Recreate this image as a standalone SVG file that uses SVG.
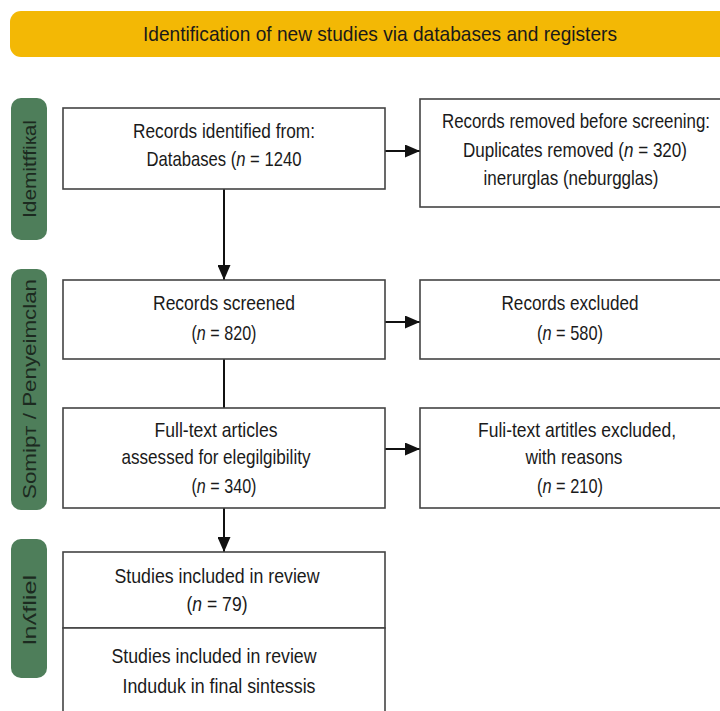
<svg xmlns="http://www.w3.org/2000/svg" width="720" height="711" viewBox="0 0 720 711">
<style>
.box{fill:#fff;stroke:#444;stroke-width:1.6}
.side{fill:#4E7E5A}
.t{font-family:"Liberation Sans",Arial,sans-serif;font-size:21px;fill:#1a1a1a;text-anchor:middle}
.st{font-family:"Liberation Sans",Arial,sans-serif;font-size:19px;fill:#1c2a20;text-anchor:middle}
.c{stroke:#111;stroke-width:2;fill:none}
.i{font-style:italic}
</style>
<defs>
<marker id="ah" markerUnits="userSpaceOnUse" markerWidth="15" markerHeight="13" refX="15" refY="6.5" orient="auto">
<path d="M0,0 L15,6.5 L0,13 z" fill="#111"/>
</marker>
</defs>
<rect width="720" height="711" fill="#fff"/>
<g id="title">
<rect x="10" y="11" width="730" height="46" rx="11" fill="#F3B805"/>
<text class="t" x="380" y="41" textLength="474" lengthAdjust="spacingAndGlyphs">Identification of new studies via databases and registers</text>
</g>
<g id="side-identification">
<rect class="side" x="11" y="98" width="36" height="142" rx="10"/>
<text class="st" transform="translate(29,169) rotate(-90)" x="0" y="6.5" textLength="98" lengthAdjust="spacingAndGlyphs">Idemitffiкal</text>
</g>
<g id="side-screening">
<rect class="side" x="11" y="269" width="36" height="241" rx="10"/>
<text class="st" transform="translate(29,389) rotate(-90)" x="0" y="6.5" textLength="220" lengthAdjust="spacingAndGlyphs">Somipт / Penyeimclan</text>
</g>
<g id="side-included">
<rect class="side" x="11" y="539" width="36" height="139" rx="10"/>
<text class="st" transform="translate(29,610) rotate(-90)" x="0" y="6.5" textLength="70" lengthAdjust="spacingAndGlyphs">lnʎfliel</text>
</g>
<g id="connectors">
<line class="c" x1="224" y1="189" x2="224" y2="280" marker-end="url(#ah)"/>
<line class="c" x1="385" y1="151" x2="420" y2="151" marker-end="url(#ah)"/>
<line class="c" x1="224" y1="359" x2="224" y2="408"/>
<line class="c" x1="385" y1="322" x2="420" y2="322" marker-end="url(#ah)"/>
<line class="c" x1="385" y1="449" x2="420" y2="449" marker-end="url(#ah)"/>
<line class="c" x1="224" y1="508" x2="224" y2="552" marker-end="url(#ah)"/>
</g>
<g id="records-identified">
<rect class="box" x="63" y="108" width="322" height="81"/>
<text class="t" x="224" y="138" textLength="182" lengthAdjust="spacingAndGlyphs">Records identified from:</text>
<text class="t" x="224" y="166" textLength="155" lengthAdjust="spacingAndGlyphs">Databases (<tspan class="i">n</tspan> = 1240</text>
</g>
<g id="records-removed">
<rect class="box" x="420" y="99" width="320" height="108"/>
<text class="t" x="576" y="128" textLength="268" lengthAdjust="spacingAndGlyphs">Records removed before screening:</text>
<text class="t" x="575" y="157" textLength="224" lengthAdjust="spacingAndGlyphs">Duplicates removed (<tspan class="i">n</tspan> = 320)</text>
<text class="t" x="571" y="185" textLength="175" lengthAdjust="spacingAndGlyphs">inerurglas (neburgglas)</text>
</g>
<g id="records-screened">
<rect class="box" x="63" y="280" width="322" height="79"/>
<text class="t" x="224" y="310" textLength="142" lengthAdjust="spacingAndGlyphs">Records screened</text>
<text class="t" x="224" y="340" textLength="65" lengthAdjust="spacingAndGlyphs">(<tspan class="i">n</tspan> = 820)</text>
</g>
<g id="records-excluded">
<rect class="box" x="420" y="280" width="320" height="79"/>
<text class="t" x="570" y="310" textLength="137" lengthAdjust="spacingAndGlyphs">Records excluded</text>
<text class="t" x="570" y="340" textLength="66" lengthAdjust="spacingAndGlyphs">(<tspan class="i">n</tspan> = 580)</text>
</g>
<g id="full-text-assessed">
<rect class="box" x="63" y="408" width="322" height="100"/>
<text class="t" x="216" y="437" textLength="123" lengthAdjust="spacingAndGlyphs">Full-text articles</text>
<text class="t" x="216" y="464" textLength="189" lengthAdjust="spacingAndGlyphs">assessed for elegilgibility</text>
<text class="t" x="224" y="493" textLength="65" lengthAdjust="spacingAndGlyphs">(<tspan class="i">n</tspan> = 340)</text>
</g>
<g id="full-text-excluded">
<rect class="box" x="420" y="408" width="320" height="100"/>
<text class="t" x="577" y="437" textLength="198" lengthAdjust="spacingAndGlyphs">Fuli-text artitles excluded,</text>
<text class="t" x="574" y="464" textLength="97" lengthAdjust="spacingAndGlyphs">with reasons</text>
<text class="t" x="570" y="493" textLength="66" lengthAdjust="spacingAndGlyphs">(<tspan class="i">n</tspan> = 210)</text>
</g>
<g id="studies-included">
<rect class="box" x="63" y="552" width="322" height="76"/>
<text class="t" x="217" y="583" textLength="205" lengthAdjust="spacingAndGlyphs">Studies included in review</text>
<text class="t" x="217" y="611" textLength="61" lengthAdjust="spacingAndGlyphs">(<tspan class="i">n</tspan> = 79)</text>
</g>
<g id="final-synthesis">
<rect class="box" x="63" y="628" width="322" height="100"/>
<text class="t" x="214" y="663" textLength="205" lengthAdjust="spacingAndGlyphs">Studies included in review</text>
<text class="t" x="219" y="693" textLength="193" lengthAdjust="spacingAndGlyphs">Induduk in final sintessis</text>
</g>
</svg>
